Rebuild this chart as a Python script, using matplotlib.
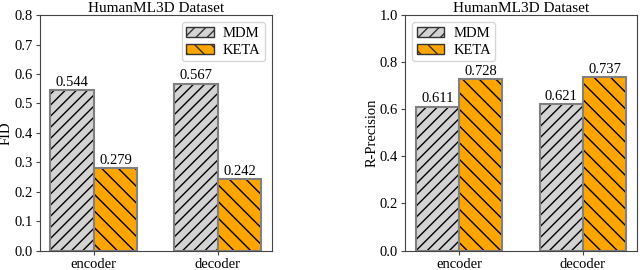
import numpy as np
import matplotlib.pyplot as plt
from matplotlib.patches import Patch

plt.rcParams['font.family'] = ['Liberation Serif', 'DejaVu Serif']
plt.rcParams['hatch.linewidth'] = 1.0

# data
groups = ['encoder', 'decoder']
methods = ['MDM', 'KETA']
fid = {'MDM': [0.544, 0.567], 'KETA': [0.279, 0.242]}
rprec = {'MDM': [0.611, 0.621], 'KETA': [0.728, 0.737]}

colors = {'MDM': 'lightgray', 'KETA': 'orange'}
hatches = {'MDM': '///', 'KETA': '\\\\'}

fig = plt.figure(figsize=(6.4, 2.7), dpi=100)
ax1 = fig.add_axes([0.062, 0.072, 0.363, 0.872])
ax2 = fig.add_axes([0.633, 0.072, 0.362, 0.872])

x = np.arange(len(groups))
w = 0.35


def draw(ax, data, ylabel, ylim, yticks, loc):
    for i, m in enumerate(methods):
        pos = x + (i - 0.5) * w
        # hatch drawn in black, outline in gray on top
        ax.bar(pos, data[m], w, color=colors[m], hatch=hatches[m],
               edgecolor='black', linewidth=0)
        ax.bar(pos, data[m], w, fill=False, edgecolor='gray', linewidth=1.5)
        for px, v in zip(pos, data[m]):
            ax.text(px, v + ylim[1] * 0.006, f'{v:.3f}', ha='center', va='bottom',
                    fontsize=10.5)
    ax.set_xticks(x)
    ax.set_xticklabels(groups)
    ax.set_ylim(*ylim)
    ax.set_yticks(yticks)
    ax.yaxis.set_major_formatter(plt.FormatStrFormatter('%.1f'))
    ax.tick_params(labelsize=10.5, length=3, pad=2, color='#444444')
    ax.set_ylabel(ylabel, fontsize=10.5, labelpad=1)
    ax.set_title('HumanML3D Dataset', fontsize=11, pad=2)
    for s in ax.spines.values():
        s.set_color('#444444')
    handles = [Patch(facecolor=colors[m], hatch=hatches[m], edgecolor='#333333',
                     label=m) for m in methods]
    ax.legend(handles=handles, loc=loc, fontsize=10.5, handlelength=1.9,
              handletextpad=0.6, borderpad=0.3, labelspacing=0.25,
              borderaxespad=0.5)


draw(ax1, fid, 'FID', (0, 0.8), np.arange(0, 0.81, 0.1), 'upper right')
draw(ax2, rprec, 'R-Precision', (0, 1.0), np.arange(0, 1.01, 0.2), 'upper left')

fig.savefig('out.png', dpi=100)
